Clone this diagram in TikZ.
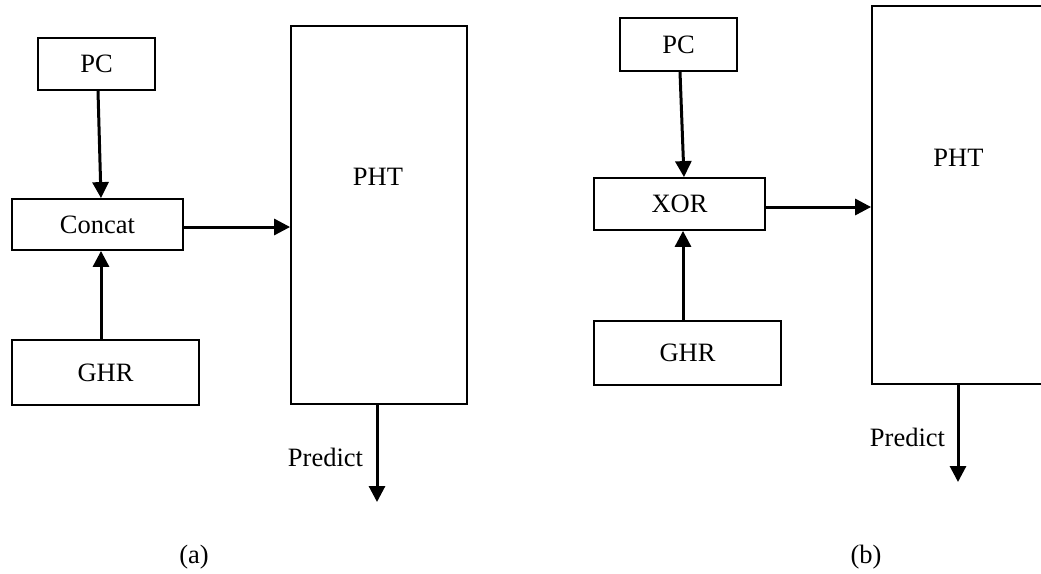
\documentclass[tikz,border=0pt]{standalone}
\usepackage{fontspec}
\setmainfont{Liberation Serif}
\usetikzlibrary{arrows.meta}
\begin{document}
\begin{tikzpicture}[x=1pt,y=-1pt,font=\fontsize{26.5}{30}\selectfont]
\def\s{1.8pt}
\def\lw{3pt}
\def\al{16pt}
\def\aw{16pt}
\useasboundingbox (0,0) rectangle (1041,573);
%(a) concat
\node [draw,black,line width=\s,inner sep=0pt,minimum width=117pt,minimum height=52pt,name=pca]      at (96.5,64) {PC};
\node [draw,black,line width=\s,inner sep=0pt,minimum width=171pt,minimum height=51pt,name=cat]      at (97.5,224.5) {Concat};
\node [draw,black,line width=\s,inner sep=0pt,minimum width=187pt,minimum height=65pt,name=ghra]     at (105.5,372.5) {GHR};
\node [draw,black,line width=\s,inner sep=0pt,minimum width=176pt,minimum height=378pt,name=phta]    at (379,215) {};
\node [inner sep=0pt,name=ta]     at (378,177) {PHT};
\node [inner sep=0pt,name=pra]    at (325.5,457) {Predict};
\node [inner sep=0pt,name=capa]   at (194,557) {(a)};
\coordinate (enda) at (377,502);
\draw [line width=\lw,-{Triangle[length=\al, width=\aw]}]([xshift=1.5pt]pca.south) to ([xshift=3.5pt]cat.north);
\draw [line width=\lw,-{Triangle[length=\al, width=\aw]}]([xshift=-4.5pt]ghra.north) to ([xshift=3.5pt]cat.south);
\draw [line width=\lw,-{Triangle[length=\al, width=\aw]}]([yshift=-2.5pt]cat.east) to ([yshift=-2.5pt]cat.east -| phta.west);
\draw [line width=\lw,-{Triangle[length=\al, width=\aw]}](phta.south -| enda) to (enda);
%(b) xor
\node [draw,black,line width=\s,inner sep=0pt,minimum width=117pt,minimum height=53pt,name=pcb]      at (678.5,44.5) {PC};
\node [draw,black,line width=\s,inner sep=0pt,minimum width=171pt,minimum height=52pt,name=xor]      at (679.5,204) {XOR};
\node [draw,black,line width=\s,inner sep=0pt,minimum width=187pt,minimum height=64pt,name=ghrb]     at (687.5,353) {GHR};
\node [draw,black,line width=\s,inner sep=0pt,minimum width=172pt,minimum height=378pt,name=phtb]    at (958,195) {};
\node [inner sep=0pt,name=tb]     at (958.5,157.5) {PHT};
\node [inner sep=0pt,name=prb]    at (907.5,437) {Predict};
\node [inner sep=0pt,name=capb]   at (866,557) {(b)};
\coordinate (endb) at (958,482);
\draw [line width=\lw,-{Triangle[length=\al, width=\aw]}]([xshift=1.5pt]pcb.south) to ([xshift=4.5pt]xor.north);
\draw [line width=\lw,-{Triangle[length=\al, width=\aw]}]([xshift=-4.5pt]ghrb.north) to ([xshift=3.5pt]xor.south);
\draw [line width=\lw,-{Triangle[length=\al, width=\aw]}]([yshift=-3pt]xor.east) to ([yshift=-3pt]xor.east -| phtb.west);
\draw [line width=\lw,-{Triangle[length=\al, width=\aw]}](phtb.south -| endb) to (endb);
\end{tikzpicture}
\end{document}
